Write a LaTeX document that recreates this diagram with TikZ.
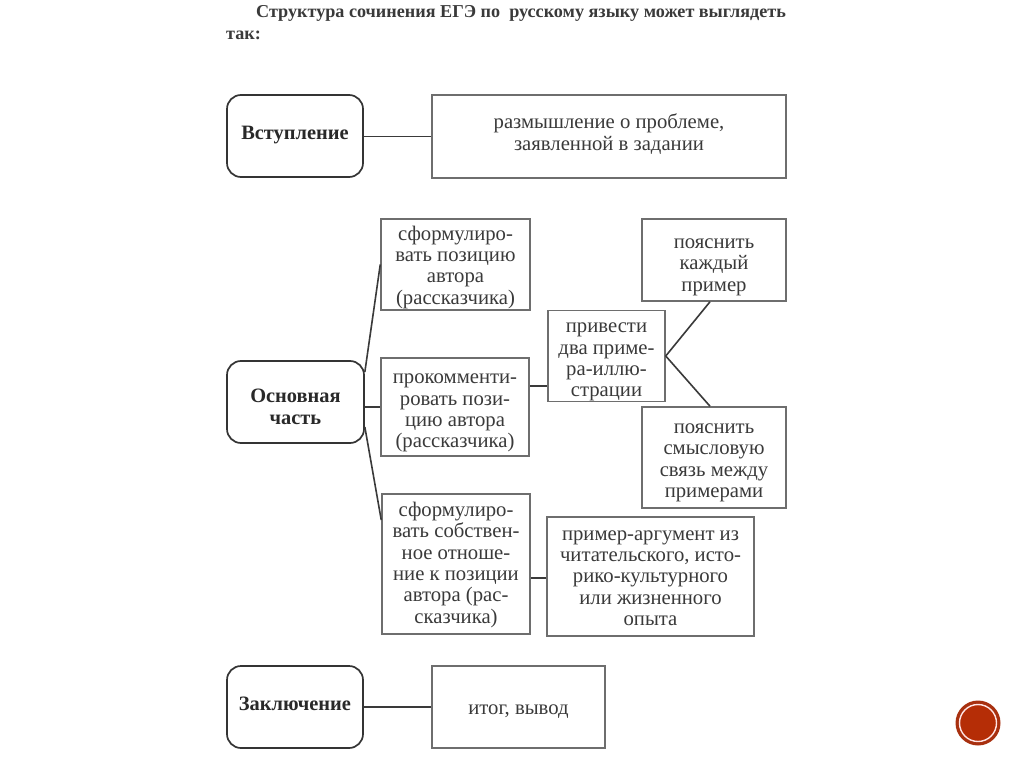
\documentclass[tikz,border=0pt]{standalone}
\usepackage{fontspec}
\setmainfont{Liberation Serif}
\definecolor{ink}{HTML}{3A3A3A}
\definecolor{edge}{HTML}{6E6E6E}
\definecolor{redout}{HTML}{A8300F}
\definecolor{redin}{HTML}{B52D06}
\newcommand\tdn[1]{\rule{0pt}{\dimexpr 14pt+2\dimexpr #1pt\relax\relax}}
\newcommand\tup[1]{\rule[-\dimexpr 5pt+2\dimexpr #1pt\relax\relax]{0pt}{0pt}}
\tikzset{
  x=1pt,y=-1pt,
  cell/.style={draw=edge,line width=1.5pt,inner sep=0pt,align=center,text=ink,
    font=\fontsize{20.7}{21.4}\selectfont},
  part/.style={draw=ink!90!black,line width=1.7pt,rounded corners=14pt,inner sep=0pt,align=center,
    text=ink!70!black,font=\fontsize{20.4}{22}\selectfont\bfseries},
  link/.style={draw=ink,line width=1.6pt},
  headline/.style={inner sep=0pt,anchor=base west,text=ink,font=\fontsize{18.15}{21}\selectfont\bfseries},
}
\begin{document}
\begin{tikzpicture}
\useasboundingbox (0,0) rectangle (1024,767);
\fill[white] (0,0) rectangle (1024,767);
\node[headline] (t1) at (256,17.5) {Структура сочинения ЕГЭ по\ \ русскому языку может выглядеть};
\node[headline] (t2) at (226,40) {так:};

\node[part,minimum width=136pt,minimum height=82pt] (intro) at (295,136) {Вступление\tup{0.5}};
\node[cell,minimum width=354pt,minimum height=83pt] (introbox) at (609,136.5) {размышление о проблеме,\\заявленной в задании\tup{2}};

\node[part,minimum width=137pt,minimum height=82pt] (main) at (295.5,402) {\tdn{4.5}Основная\\часть};
\node[cell,minimum width=149pt,minimum height=91pt] (a1) at (455.5,264.5) {\tdn{3}сформулиро-\\вать позицию\\автора\\(рассказчика)};
\node[cell,minimum width=148pt,minimum height=98pt] (a2) at (455,407) {\tdn{4}прокомменти-\\ровать пози-\\цию автора\\(рассказчика)};
\node[cell,minimum width=148pt,minimum height=140pt] (a3) at (456,564) {\tdn{1}сформулиро-\\вать собствен-\\ное отноше-\\ние к позиции\\автора (рас-\\сказчика)};
\node[cell,minimum width=117pt,minimum height=90pt] (b) at (606.5,356) {\tdn{4}привести\\два приме-\\ра-иллю-\\страции};
\node[cell,minimum width=144pt,minimum height=82pt] (c) at (714,260) {\tdn{5}пояснить\\каждый\\пример};
\node[cell,minimum width=144pt,minimum height=101pt] (d) at (714,457.5) {\tdn{3}пояснить\\смысловую\\связь между\\примерами};
\node[cell,minimum width=207pt,minimum height=119pt] (e) at (650.5,576.5) {\tdn{-0.5}пример-аргумент из\\читательского, исто-\\рико-культурного\\или жизненного\\опыта};

\node[part,minimum width=136pt,minimum height=82pt] (concl) at (295,707) {Заключение\tup{0.5}};
\node[cell,minimum width=173pt,minimum height=82pt] (conclbox) at (518.5,707) {\tdn{2}итог, вывод};

\draw[link] (intro.east |- introbox.west) -- (introbox.west);
\draw[link] (concl.east) -- (conclbox.west);
\draw[link] ([yshift=30pt]main.east) -- (a1.west);
\draw[link] ([yshift=-5pt]main.east) -- (a2.west);
\draw[link] ([yshift=-25pt]main.east) -- ([yshift=44pt]a3.west);
\draw[link] ([yshift=21pt]a2.east) -- ([yshift=-30pt]b.west);
\draw[link] ([yshift=-14pt]a3.east) -- ([yshift=-14pt]a3.east -| e.west);
\draw[link] (b.east) -- ([xshift=-4pt]c.south);
\draw[link] (b.east) -- ([xshift=-4pt]d.north);

\fill[redout] (978,723) coordinate (dot) circle (22.5pt);
\fill[redin] (dot) circle (18pt);
\draw[white!90!red,line width=1.4pt] (dot) circle (18.5pt);
\end{tikzpicture}
\end{document}
